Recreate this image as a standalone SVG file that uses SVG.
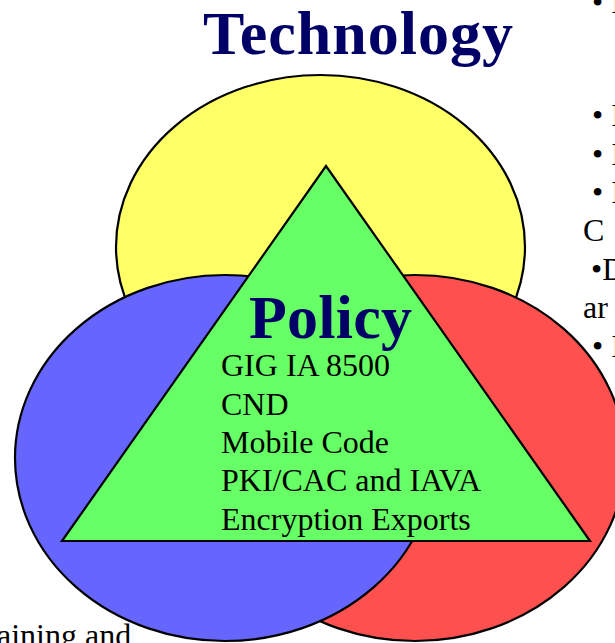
<svg xmlns="http://www.w3.org/2000/svg" width="615" height="643" viewBox="0 0 615 643">
<style>
.sh{stroke:#000;stroke-width:2.2}
.t{font-family:"Liberation Serif","Times New Roman",serif;font-size:32px;fill:#000}
.h{font-family:"Liberation Serif","Times New Roman",serif;font-size:62px;font-weight:bold;fill:#000066}
</style>
<rect width="615" height="643" fill="#fff"/>
<g id="technology">
<ellipse class="sh" cx="320.5" cy="247" rx="204.5" ry="172" fill="#FFFF66"/>
</g>
<g id="red">
<ellipse class="sh" cx="415" cy="458" rx="210" ry="183" fill="#FF5050"/>
</g>
<g id="blue">
<ellipse class="sh" cx="225" cy="458" rx="210" ry="183" fill="#6666FF"/>
</g>
<g id="policy">
<polygon class="sh" points="326,166 62,541 590,541" fill="#66FF66"/>
<text class="h" x="249" y="338" textLength="163">Policy</text>
<text class="t" x="221" y="376">GIG IA 8500</text>
<text class="t" x="221" y="414.5">CND</text>
<text class="t" x="221" y="453">Mobile Code</text>
<text class="t" x="221" y="491">PKI/CAC and IAVA</text>
<text class="t" x="221" y="529.5">Encryption Exports</text>
</g>
<g id="title">
<text class="h" x="203" y="54" textLength="310">Technology</text>
</g>
<g id="right-text">
<text class="t" x="592" y="13">• I</text>
<text class="t" x="592" y="126">• I</text>
<text class="t" x="592" y="164.5">• I</text>
<text class="t" x="592" y="203">• I</text>
<text class="t" x="583" y="241">C</text>
<text class="t" x="591" y="280">•D</text>
<text class="t" x="583" y="318">ar</text>
<text class="t" x="592" y="356.5">• I</text>
</g>
<g id="bottom-text">
<text class="t" x="-3" y="646">aining and</text>
</g>
</svg>
